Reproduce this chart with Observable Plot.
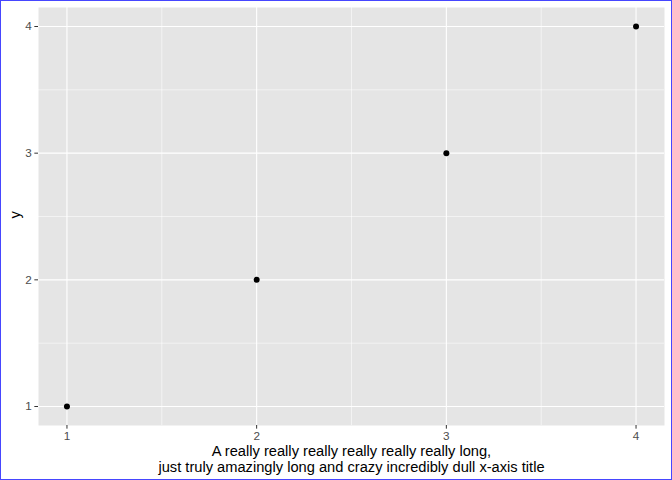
<!DOCTYPE html>
<html>
<head>
<meta charset="utf-8">
<script src="https://cdn.jsdelivr.net/npm/d3@7"></script>
<script src="https://cdn.jsdelivr.net/npm/@observablehq/plot@0.6"></script>
<style>
  html, body { margin: 0; padding: 0; background: #fff; }
  #wrap { position: relative; width: 672px; height: 480px; }
  #border { position: absolute; left: 0; top: 0; width: 672px; height: 480px; box-sizing: border-box; border: 1px solid #4646ff; pointer-events: none; }
  svg { display: block; }
</style>
</head>
<body>
<div id="wrap"><div id="border"></div></div>
<script>
const xs = [1, 2, 3, 4];
const ys = [1, 2, 3, 4];
const xTicks = [1, 2, 3, 4];
const yTicks = [1, 2, 3, 4];
const xMinor = [1.5, 2.5, 3.5];
const yMinor = [1.5, 2.5, 3.5];
const xTitle = "A really really really really really really long,\njust truly amazingly long and crazy incredibly dull x-axis title";
const yTitle = "y";

const points = xs.map((x, i) => ({x, y: ys[i]}));

const chart = Plot.plot({
  width: 672,
  height: 480,
  marginLeft: 38,
  marginRight: 8,
  marginTop: 7,
  marginBottom: 55,
  style: {fontFamily: "'Liberation Sans', Arial, Helvetica, sans-serif", fontSize: "11.73px", background: "transparent"},
  x: {domain: [0.85, 4.15], axis: null},
  y: {domain: [0.85, 4.15], axis: null},
  marks: [
    Plot.frame({fill: "#E5E5E5", stroke: null}),
    Plot.ruleX(xMinor, {stroke: "#ffffff", strokeWidth: 0.55}),
    Plot.ruleY(yMinor, {stroke: "#ffffff", strokeWidth: 0.55}),
    Plot.ruleX(xTicks, {stroke: "#ffffff", strokeWidth: 1.1}),
    Plot.ruleY(yTicks, {stroke: "#ffffff", strokeWidth: 1.1}),
    Plot.axisX({ticks: xTicks, tickSize: 3.67, tickPadding: 2.93, stroke: "#333333", fill: "#4D4D4D", label: null, tickFormat: d => String(d)}),
    Plot.axisY({ticks: yTicks, tickSize: 3.67, tickPadding: 2.93, stroke: "#333333", fill: "#4D4D4D", label: null, tickFormat: d => String(d)}),
    Plot.dot(points, {x: "x", y: "y", r: 3, fill: "#000000", stroke: null}),
    Plot.text([xTitle], {frameAnchor: "bottom", lineAnchor: "top", dy: 20, fontSize: 14.67, fill: "#000000", lineHeight: 1.05}),
    Plot.text([yTitle], {frameAnchor: "left", rotate: -90, dx: -23, dy: 2, fontSize: 14.67, fill: "#000000"})
  ]
});
document.getElementById("wrap").prepend(chart);
</script>
</body>
</html>
